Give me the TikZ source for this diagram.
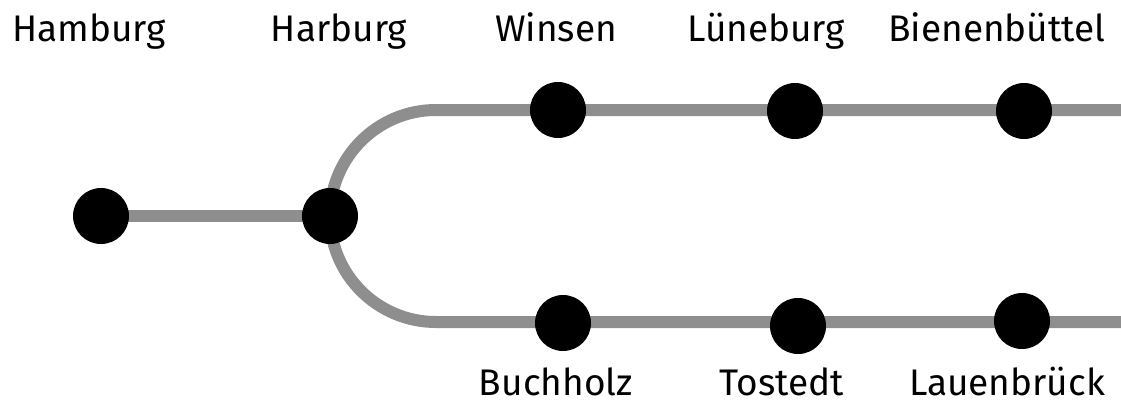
\documentclass[tikz,border=0pt]{standalone}
\usepackage{fontspec}
\setmainfont{Fira Sans}
\usetikzlibrary{backgrounds}
\definecolor{track}{RGB}{142,142,142}
\begin{document}
\begin{tikzpicture}[x=1pt,y=-1pt,
  station/.style={circle,fill=black,inner sep=0pt,minimum size=56pt},
  trackline/.style={draw=track,line width=12pt},
  lbl/.style={anchor=base,inner sep=0pt,font=\fontsize{37}{42}\selectfont}]
\useasboundingbox (0,0) rectangle (1121,402);
\node[station] (hamburg) at (101,216) {};
\node[station] (harburg) at (330,216) {};
\node[station] (winsen) at (558,110) {};
\node[station] (lueneburg) at (795,111) {};
\node[station] (bienen) at (1024,111) {};
\node[station] (buchholz) at (563,323) {};
\node[station] (tostedt) at (798,326) {};
\node[station] (lauen) at (1022,321) {};
\coordinate (eastN) at (1121,110);
\coordinate (eastS) at (1121,322);
\begin{scope}[on background layer]
\draw[trackline] (hamburg.center) -- (harburg.center);
\draw[trackline] (harburg.center) arc[start angle=180,end angle=270,radius=106] -- (eastN);
\draw[trackline] (harburg.center) arc[start angle=180,end angle=90,radius=106] -- (eastS);
\end{scope}
\node[lbl] (lhamburg) at (89,41) {Hamburg};
\node[lbl] (lharburg) at (339,41) {Harburg};
\node[lbl] (lwinsen) at (556,41) {Winsen};
\node[lbl] (lluene) at (766,41) {Lüneburg};
\node[lbl] (lbienen) at (997,41) {Bienenbüttel};
\node[lbl] (lbuch) at (556,395) {Buchholz};
\node[lbl] (ltost) at (782,395) {Tostedt};
\node[lbl] (llauen) at (1007,395) {Lauenbrück};
\end{tikzpicture}
\end{document}
